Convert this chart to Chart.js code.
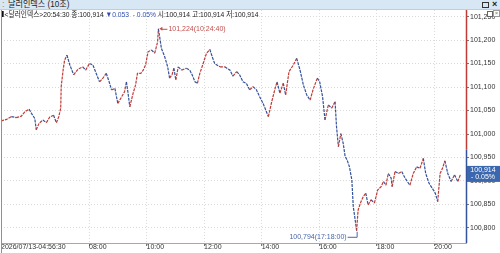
<!DOCTYPE html>
<html>
<head>
<meta charset="UTF-8">
<title>달러인덱스 (10초)</title>
<script src="https://cdn.jsdelivr.net/npm/chart.js@4.4.1/dist/chart.umd.min.js"></script>
<style>
html, body { margin:0; padding:0; background:#fff; }
body { width:500px; height:253px; position:relative; overflow:hidden;
  font-family:'Liberation Sans','Noto Sans CJK KR',sans-serif; }
#cv { position:absolute; left:0; top:0; }
#bar { position:absolute; left:0; top:0; width:500px; height:9px; background:#d8e7f4;
  border-bottom:1px solid #b9cfe4; font-size:9px; line-height:9px; color:#222; z-index:2; }
#bar .grip { position:absolute; left:2px; top:0; color:#888; }
#bar .ttl { position:absolute; left:8px; top:0; transform:scaleX(0.9); transform-origin:left; }
#bar .rest { position:absolute; left:482px; top:2px; width:5px; height:4px; border:1px solid #333; }
#bar .cls { position:absolute; left:492px; top:0; font-weight:bold; }
#info { position:absolute; left:2px; top:10px; font-size:8px; line-height:9px; color:#222; z-index:2;
  white-space:nowrap; transform:scaleX(0.84); transform-origin:left; }
#info .blk { display:inline-block; width:2px; height:6px; background:#111; margin-right:1px; }
#info .dn { color:#3050b0; }
.ico1 { position:absolute; left:487px; top:11px; width:4px; height:4px; border:1px solid #666; z-index:2; background:#fff; }
.ico2 { position:absolute; left:493px; top:10px; width:5px; height:5px; border:1px solid #999; z-index:2; background:#fff;
  font-size:6px; line-height:5px; text-align:center; color:#777; }
</style>
</head>
<body>
<div id="bar"><span class="grip">:</span><span class="ttl">달러인덱스 (10초)</span><span class="rest"></span><span class="cls">×</span></div>
<div id="info"></div>
<div class="ico1"></div><div class="ico2">×</div>
<canvas id="cv" width="500" height="253"></canvas>
<script>
var times = [
  "04:56:30","05:08","05:18","05:28","05:39","05:46","05:55","06:00","06:07","06:10",
  "06:16","06:24","06:31","06:38","06:46","06:52","06:57","07:01","07:02","07:06",
  "07:09","07:14","07:20","07:28","07:37","07:47","07:53","08:01","08:08","08:15",
  "08:22","08:29","08:36","08:42","08:47","08:54","09:00","09:08","09:14","09:18",
  "09:21","09:25","09:32","09:37","09:41","09:48","09:53","09:58","10:03","10:10",
  "10:17","10:23","10:24:40","10:31","10:38","10:44","10:48","10:53","10:57","11:01",
  "11:06","11:13","11:23","11:30","11:35","11:41","11:46","11:51","11:58","12:05",
  "12:12","12:17","12:22","12:33","12:43","12:54","13:00","13:08","13:14","13:21",
  "13:28","13:35","13:42","13:49","13:56","14:03","14:10","14:14","14:21","14:28",
  "14:32","14:38","14:45","14:50","14:57","15:06","15:13","15:20","15:27","15:34",
  "15:41","15:47","15:56","16:01","16:07","16:12","16:19","16:26","16:33","16:36",
  "16:40","16:45","16:50","16:54","16:58","17:03","17:08","17:11","17:14","17:18:00",
  "17:21","17:27","17:32","17:37","17:42","17:48","17:55","18:02","18:09","18:14",
  "18:19","18:24","18:30","18:32","18:38","18:45","18:52","18:59","19:09","19:16",
  "19:23","19:30","19:37","19:42","19:49","19:56","20:02","20:07","20:12","20:17",
  "20:22","20:28","20:35","20:42","20:49","20:54:30"
];
var values = [
  101.028,101.031,101.037,101.035,101.038,101.047,101.053,101.044,101.033,101.009,
  101.023,101.030,101.024,101.036,101.040,101.024,101.037,101.055,101.101,101.136,
  101.157,101.168,101.147,101.126,101.138,101.143,101.136,101.150,101.147,101.129,
  101.111,101.119,101.129,101.111,101.094,101.097,101.065,101.079,101.090,101.111,
  101.090,101.058,101.087,101.104,101.129,101.129,101.136,101.147,101.175,101.179,
  101.172,101.196,101.224,101.182,101.164,101.143,101.119,101.126,101.140,101.115,
  101.143,101.136,101.140,101.136,101.126,101.111,101.108,101.129,101.150,101.172,
  101.180,101.164,101.150,101.143,101.143,101.136,101.123,101.133,101.126,101.111,
  101.108,101.094,101.101,101.094,101.079,101.065,101.047,101.037,101.069,101.097,
  101.111,101.087,101.108,101.083,101.133,101.147,101.161,101.136,101.104,101.083,
  101.072,101.094,101.119,101.111,101.079,101.030,101.062,101.055,101.069,101.016,
  100.973,101.001,100.980,100.952,100.945,100.930,100.902,100.845,100.824,100.794,
  100.838,100.856,100.867,100.874,100.849,100.860,100.853,100.881,100.888,100.899,
  100.891,100.916,100.906,100.888,100.920,100.916,100.920,100.906,100.891,100.916,
  100.930,100.927,100.948,100.916,100.895,100.884,100.874,100.856,100.916,100.927,
  100.943,100.916,100.899,100.913,100.899,100.914
];
var xTickTimes = ["04:56:30","08:00","10:00","12:00","14:00","16:00","18:00","20:00"];
var startLabel = "2026/07/13-04:56:30";
var yTicks = [100.80,100.85,100.90,100.95,101.00,101.05,101.10,101.15,101.20,101.25];
var lastChange = -0.053;
var lastPct = "- 0.05%";
var RED = '#bf3b36', BLUE = '#34539a';
var FONT = "7px 'Liberation Sans',sans-serif";

function toMin(s) {
  var p = s.split(':');
  return +p[0] * 60 + +p[1] + (p[2] ? +p[2] / 60 : 0);
}
function hhmm(m) {
  var h = Math.floor(m / 60), mm = Math.round(m - h * 60);
  return (h < 10 ? '0' : '') + h + ':' + (mm < 10 ? '0' : '') + mm;
}
function fmt(v) { return v.toFixed(3).replace('.', ','); }

var points = times.map(function (t, i) { return {x: toMin(t), y: values[i]}; });
var last = values[values.length - 1];
var prevClose = last - lastChange;

document.getElementById('info').innerHTML =
  '<span class="blk"></span>&lt;달러인덱스&gt;' + times[times.length - 1] + ' 종:' + fmt(last) +
  ' <span class="dn">▼' + Math.abs(lastChange).toFixed(3) + ' &nbsp;' + lastPct + '</span>' +
  ' 시:' + fmt(last) + ' 고:' + fmt(last) + ' 저:' + fmt(last);

var extras = {
  id: 'extras',
  afterDraw: function (chart) {
    var ctx = chart.ctx, a = chart.chartArea;
    var xs = chart.scales.x, ys = chart.scales.y;
    ctx.save();
    // left frame
    ctx.strokeStyle = '#8193b5';
    ctx.lineWidth = 1;
    ctx.beginPath(); ctx.moveTo(a.left + 0.5, 0); ctx.lineTo(a.left + 0.5, 253); ctx.stroke();
    // right axis split at previous close
    var yc = ys.getPixelForValue(prevClose);
    ctx.lineWidth = 1.5;
    ctx.strokeStyle = RED;
    ctx.beginPath(); ctx.moveTo(a.right + 0.5, a.top); ctx.lineTo(a.right + 0.5, yc); ctx.stroke();
    ctx.strokeStyle = BLUE;
    ctx.beginPath(); ctx.moveTo(a.right + 0.5, yc); ctx.lineTo(a.right + 0.5, a.bottom); ctx.stroke();

    ctx.font = FONT;
    ctx.textBaseline = 'middle';
    ctx.lineWidth = 1;
    // max label
    var iMax = 0, iMin = 0;
    values.forEach(function (v, i) { if (v > values[iMax]) iMax = i; if (v < values[iMin]) iMin = i; });
    var mx = xs.getPixelForValue(points[iMax].x), my = ys.getPixelForValue(values[iMax]);
    ctx.fillStyle = '#c0504d'; ctx.strokeStyle = '#c0504d';
    ctx.beginPath(); ctx.moveTo(mx + 1, my); ctx.lineTo(mx + 4, my - 2); ctx.lineTo(mx + 4, my + 2); ctx.closePath(); ctx.fill();
    ctx.beginPath(); ctx.moveTo(mx + 3, my + 0.5); ctx.lineTo(mx + 9, my + 0.5); ctx.stroke();
    ctx.textAlign = 'left';
    ctx.fillText(fmt(values[iMax]) + '(' + times[iMax] + ')', mx + 10, my);
    // min label
    var nx = xs.getPixelForValue(points[iMin].x), ny = ys.getPixelForValue(values[iMin]);
    ctx.fillStyle = '#4a66a8'; ctx.strokeStyle = '#4a66a8';
    ctx.beginPath();
    ctx.moveTo(nx + 0.5, ny + 1); ctx.lineTo(nx + 0.5, ny + 6.5); ctx.lineTo(nx - 9, ny + 6.5);
    ctx.stroke();
    ctx.textAlign = 'right';
    ctx.fillText(fmt(values[iMin]) + '(' + times[iMin] + ')', nx - 10, ny + 6.5);
    // current price box
    var ly = ys.getPixelForValue(last);
    ctx.fillStyle = '#3a67ad';
    ctx.fillRect(a.right + 1, ly - 8.5, 33, 16);
    ctx.fillStyle = '#fff';
    ctx.textAlign = 'center';
    ctx.fillText(fmt(last), a.right + 17, ly - 4);
    ctx.fillText(lastPct, a.right + 17, ly + 3);
    ctx.restore();
  }
};

Chart.defaults.font.family = "'Liberation Sans',sans-serif";
Chart.defaults.font.size = 7;
Chart.defaults.color = '#333';

new Chart(document.getElementById('cv').getContext('2d'), {
  type: 'line',
  data: {
    datasets: [{
      data: points,
      borderWidth: 1.2,
      borderDash: [3, 1],
      pointRadius: 0,
      tension: 0,
      segment: {
        borderColor: function (c) { return c.p1.parsed.y >= c.p0.parsed.y ? RED : BLUE; }
      }
    }]
  },
  options: {
    responsive: false,
    animation: false,
    devicePixelRatio: 1,
    layout: {padding: {top: 10, left: 1, right: 0, bottom: 0}},
    plugins: {legend: {display: false}, tooltip: {enabled: false}},
    scales: {
      x: {
        type: 'linear',
        min: toMin(times[0]),
        max: 1266,
        afterBuildTicks: function (s) { s.ticks = xTickTimes.map(function (t) { return {value: toMin(t)}; }); },
        afterFit: function (s) { s.height = 10; },
        grid: {color: '#dadada', tickColor: '#777', tickLength: 3, tickBorderDash: []},
        border: {color: '#a8a8a8', dash: [1, 2]},
        ticks: {
          align: 'start', autoSkip: false, maxRotation: 0, padding: -3,
          callback: function (v, i) { return i === 0 ? startLabel : hhmm(v); }
        }
      },
      y: {
        position: 'right',
        min: 100.768,
        max: 101.264,
        afterBuildTicks: function (s) { s.ticks = yTicks.map(function (v) { return {value: v}; }); },
        afterFit: function (s) { s.width = 34; },
        grid: {color: '#dadada', tickColor: '#777', tickLength: 3, tickBorderDash: []},
        border: {display: false, dash: [1, 2]},
        ticks: {padding: 1, callback: function (v) { return fmt(v); }}
      }
    }
  },
  plugins: [extras]
});
</script>
</body>
</html>
